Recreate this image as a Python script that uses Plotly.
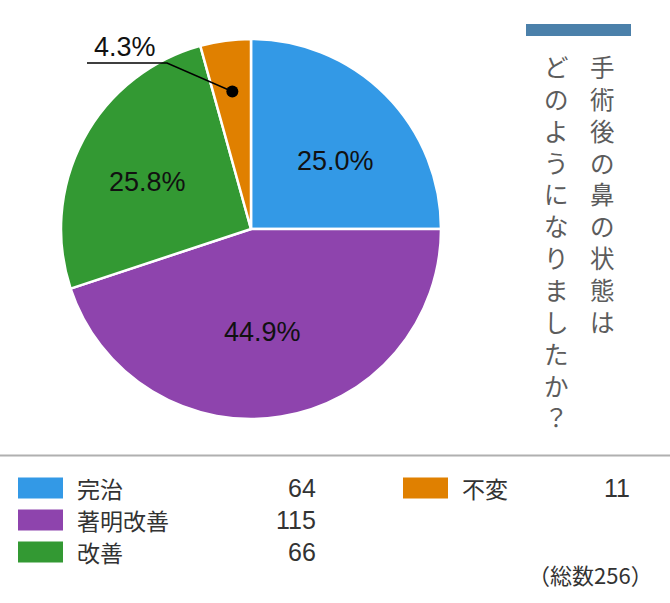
import math
import plotly.graph_objects as go

# ---- data ----
categories = ["完治", "著明改善", "改善", "不変"]
values = [64, 115, 66, 11]
colors = ["#3399e6", "#8e44ad", "#339933", "#e08000"]
total_label = "（総数256）"
title_col1 = "手術後の鼻の状態は"
title_col2 = "どのようになりましたか？"

W, H = 670, 603
CX, CY, R = 251, 229, 190  # pie centre / radius in px
label_nudge = [(8, 9), (-6, -4), (-8, 4), (0, 0)]  # px style offsets for inside labels


def px(x):
    return x / W


def py(y):
    return 1 - y / H


fig = go.Figure()
fig.add_trace(go.Pie(
    labels=categories, values=values, sort=False, direction="clockwise",
    rotation=0, marker=dict(colors=colors, line=dict(color="white", width=2.5)),
    textinfo="none", hoverinfo="label+value+percent", showlegend=False,
    domain=dict(x=[px(CX - R), px(CX + R)], y=[py(CY + R), py(CY - R)]),
))

LAT = "Liberation Sans, Arial, Noto Sans CJK JP"
JP = "Noto Sans CJK JP, Liberation Sans"
annotations = []
shapes = []

tot = sum(values)
cum = 0
for i, v in enumerate(values):
    mid = (cum + v / 2) / tot * 2 * math.pi
    cum += v
    pct = f"{v / tot * 100:.1f}%"
    if v / tot > 0.1:
        rr = 0.57 * R
        x = CX + rr * math.sin(mid) + label_nudge[i][0]
        y = CY - rr * math.cos(mid) + label_nudge[i][1]
        annotations.append(dict(x=px(x), y=py(y), xref="paper", yref="paper",
                                text=pct, showarrow=False,
                                font=dict(family=LAT, size=27, color="#111"),
                                xanchor="center", yanchor="middle"))
    else:
        rr = 0.73 * R
        dx = CX + rr * math.sin(mid)
        dy = CY - rr * math.cos(mid)
        shapes.append(dict(type="path", xref="paper", yref="paper",
                           path=f"M {px(87)} {py(63)} L {px(167)} {py(63)} L {px(dx)} {py(dy)}",
                           line=dict(color="black", width=1.5)))
        shapes.append(dict(type="circle", xref="paper", yref="paper",
                           x0=px(dx - 6), x1=px(dx + 6), y0=py(dy + 6), y1=py(dy - 6),
                           fillcolor="black", line=dict(color="black", width=0)))
        annotations.append(dict(x=px(125), y=py(47), xref="paper", yref="paper",
                                text=pct, showarrow=False,
                                font=dict(family=LAT, size=27, color="#111"),
                                xanchor="center", yanchor="middle"))

# title bar
shapes.append(dict(type="rect", xref="paper", yref="paper",
                   x0=px(526), x1=px(631), y0=py(36), y1=py(24),
                   fillcolor="#4b80aa", line=dict(width=0)))
# vertical title: one annotation per column, one character per line
for col_text, cx in ((title_col1, 602), (title_col2, 556)):
    annotations.append(dict(x=px(cx), y=py(47), xref="paper", yref="paper",
                            text="<br>".join(col_text), showarrow=False,
                            font=dict(family=JP, size=24.5, color="#5c5c5c"),
                            xanchor="center", yanchor="top", align="center"))

# separator
shapes.append(dict(type="line", xref="paper", yref="paper",
                   x0=0, x1=1, y0=py(455.5), y1=py(455.5),
                   line=dict(color="#b0b0b0", width=2)))

# legend
slots = [(18, 488, 318), (18, 520, 318), (18, 552, 318), (403, 488, 632)]
for (lx, ly, rx), cat, val, col in zip(slots, categories, values, colors):
    shapes.append(dict(type="rect", xref="paper", yref="paper",
                       x0=px(lx), x1=px(lx + 45), y0=py(ly + 10.5), y1=py(ly - 10.5),
                       fillcolor=col, line=dict(width=0)))
    annotations.append(dict(x=px(lx + 57), y=py(ly), xref="paper", yref="paper",
                            text=cat, showarrow=False,
                            font=dict(family=JP, size=23, color="#333"),
                            xanchor="left", yanchor="middle"))
    annotations.append(dict(x=px(rx), y=py(ly), xref="paper", yref="paper",
                            text=str(val), showarrow=False,
                            font=dict(family=LAT, size=25, color="#333"),
                            xanchor="right", yanchor="middle"))

annotations.append(dict(x=px(655), y=py(574), xref="paper", yref="paper",
                        text=total_label, showarrow=False,
                        font=dict(family=JP, size=22, color="#333"),
                        xanchor="right", yanchor="middle"))

fig.update_layout(width=W, height=H, margin=dict(l=0, r=0, t=0, b=0),
                  paper_bgcolor="white", plot_bgcolor="white",
                  annotations=annotations, shapes=shapes)
fig.write_html("out.html")
